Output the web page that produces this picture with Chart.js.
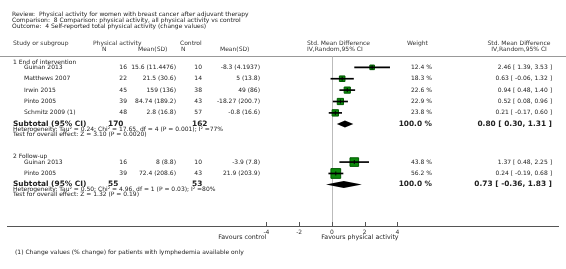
<!DOCTYPE html>
<html>
<head>
<meta charset="utf-8">
<script src="https://cdn.jsdelivr.net/npm/chart.js@4"></script>
<style>
  html, body { margin: 0; padding: 0; background: #fff; }
  canvas { display: block; }
</style>
</head>
<body>
<canvas id="forestplot" width="566" height="269"></canvas>
<script>
// header text
const titleLines = [
  'Review:  Physical activity for women with breast cancer after adjuvant therapy',
  'Comparison:  8 Comparison: physical activity, all physical activity vs control',
  'Outcome:  4 Self-reported total physical activity (change values)'
];
const footnote = '(1) Change values (% change) for patients with lymphedemia available only';

// subgroup 1: end of intervention
const g1Name = '1 End of intervention';
const g1Studies = ['Guinan 2013', 'Matthews 2007', 'Irwin 2015', 'Pinto 2005', 'Schmitz 2009 (1)'];
const g1PaN = [16, 22, 45, 39, 48];
const g1PaMean = [15.6, 21.5, 159, 84.74, 2.8];
const g1PaSD = [11.4476, 30.6, 136, 189.2, 16.8];
const g1CtN = [10, 14, 38, 43, 57];
const g1CtMean = [-8.3, 5, 49, -18.27, -0.8];
const g1CtSD = [4.1937, 13.8, 86, 200.7, 16.6];
const g1Weight = [12.4, 18.3, 22.6, 22.9, 23.8];
const g1Smd = [2.46, 0.63, 0.94, 0.52, 0.21];
const g1Lo = [1.39, -0.06, 0.48, 0.08, -0.17];
const g1Hi = [3.53, 1.32, 1.40, 0.96, 0.60];
const g1Total = { paN: 170, ctN: 162, smd: 0.80, lo: 0.30, hi: 1.31 };
const g1Het = 'Heterogeneity: Tau\u00b2 = 0.24; Chi\u00b2 = 17.65, df = 4 (P = 0.001); I\u00b2 =77%';
const g1Test = 'Test for overall effect: Z = 3.10 (P = 0.0020)';

// subgroup 2: follow-up
const g2Name = '2 Follow-up';
const g2Studies = ['Guinan 2013', 'Pinto 2005'];
const g2PaN = [16, 39];
const g2PaMean = [8, 72.4];
const g2PaSD = [8.8, 208.6];
const g2CtN = [10, 43];
const g2CtMean = [-3.9, 21.9];
const g2CtSD = [7.8, 203.9];
const g2Weight = [43.8, 56.2];
const g2Smd = [1.37, 0.24];
const g2Lo = [0.48, -0.19];
const g2Hi = [2.25, 0.68];
const g2Total = { paN: 55, ctN: 53, smd: 0.73, lo: -0.36, hi: 1.83 };
const g2Het = 'Heterogeneity: Tau\u00b2 = 0.50; Chi\u00b2 = 4.96, df = 1 (P = 0.03); I\u00b2 =80%';
const g2Test = 'Test for overall effect: Z = 1.32 (P = 0.19)';

const xTicks = [-4, -2, 0, 2, 4];
const leftLabel = 'Favours control';
const rightLabel = 'Favours physical activity';

// row layout (y scale units = one study row)
function makeGroup(name, studies, paN, paMean, paSD, ctN, ctMean, ctSD, weight, smd, lo, hi, total, het, test, start) {
  const rows = studies.map((s, i) => ({
    name: s, y: start + i,
    paN: paN[i], pa: paMean[i] + ' (' + paSD[i] + ')',
    ctN: ctN[i], ct: ctMean[i] + ' (' + ctSD[i] + ')',
    weight: weight[i], smd: smd[i], lo: lo[i], hi: hi[i]
  }));
  const sub = start + studies.length - 0.03;
  return { name, rows, total, het, test, headY: start - 0.47, subY: sub, hetY: sub + 0.46, testY: sub + 0.9 };
}
const group1 = makeGroup(g1Name, g1Studies, g1PaN, g1PaMean, g1PaSD, g1CtN, g1CtMean, g1CtSD,
  g1Weight, g1Smd, g1Lo, g1Hi, g1Total, g1Het, g1Test, 5.22);
const group2 = makeGroup(g2Name, g2Studies, g2PaN, g2PaMean, g2PaSD, g2CtN, g2CtMean, g2CtSD,
  g2Weight, g2Smd, g2Lo, g2Hi, g2Total, g2Het, g2Test, group1.subY + 3.35);
const groups = [group1, group2];
const allRows = groups.flatMap(g => g.rows);

const fmt = v => v.toFixed(2);
const ciText = (m, l, h) => fmt(m) + ' [ ' + fmt(l) + ', ' + fmt(h) + ' ]';

const FONT = '"DejaVu Sans", Verdana, sans-serif';
const TEXT = '#222';

// text columns, lines, diamonds
const forestText = {
  id: 'forestText',
  beforeDatasetsDraw(chart) {
    const { ctx, chartArea, scales: { x, y } } = chart;
    ctx.save();
    // rule under the column headers
    ctx.strokeStyle = '#999';
    ctx.lineWidth = 1;
    const ruleY = Math.round(y.getPixelForValue(4.2)) + 0.5;
    ctx.beginPath();
    ctx.moveTo(0, ruleY);
    ctx.lineTo(chart.width, ruleY);
    ctx.stroke();
    // line of no effect
    const zx = Math.round(x.getPixelForValue(0)) + 0.5;
    ctx.strokeStyle = '#bbb';
    ctx.beginPath();
    ctx.moveTo(zx, ruleY);
    ctx.lineTo(zx, chartArea.bottom);
    ctx.stroke();
    ctx.restore();
  },
  afterDraw(chart) {
    const { ctx, chartArea, scales: { x, y } } = chart;
    const py = v => y.getPixelForValue(v);
    ctx.save();
    ctx.textBaseline = 'middle';
    ctx.fillStyle = TEXT;

    const txt = (s, px, yy, align, font) => {
      ctx.font = font || ('6px ' + FONT);
      ctx.textAlign = align || 'left';
      ctx.fillText(s, px, yy);
    };
    const bold = 'bold 7.4px ' + FONT;

    titleLines.forEach((t, i) => txt(t, 12, py(0.6 + i * 0.5)));

    const h1 = py(3.14), h2 = py(3.65);
    ctx.fillStyle = '#333';
    txt('Study or subgroup', 13, h1);
    txt('Physical activity', 93, h1);
    txt('N', 102, h2);
    txt('Mean(SD)', 138, h2);
    txt('Control', 180, h1);
    txt('N', 181, h2);
    txt('Mean(SD)', 220, h2);
    txt('Std. Mean Difference', 307, h1);
    txt('IV,Random,95% CI', 307, h2);
    txt('Weight', 407, h1);
    txt('Std. Mean Difference', 519, h1, 'center');
    txt('IV,Random,95% CI', 519, h2, 'center');
    ctx.fillStyle = TEXT;

    groups.forEach(g => {
      txt(g.name, 13, py(g.headY));
      g.rows.forEach(r => {
        const yy = py(r.y);
        txt(r.name, 24, yy);
        txt(String(r.paN), 127, yy, 'right');
        txt(r.pa, 176, yy, 'right');
        txt(String(r.ctN), 202, yy, 'right');
        txt(r.ct, 260, yy, 'right');
        txt(r.weight.toFixed(1) + ' %', 432, yy, 'right');
        txt(ciText(r.smd, r.lo, r.hi), 552, yy, 'right');
      });
      const sy = py(g.subY);
      txt('Subtotal (95% CI)', 13, sy, 'left', bold);
      txt(String(g.total.paN), 108, sy, 'left', bold);
      txt(String(g.total.ctN), 192, sy, 'left', bold);
      txt('100.0 %', 432, sy, 'right', bold);
      txt(ciText(g.total.smd, g.total.lo, g.total.hi), 552, sy, 'right', bold);
      txt(g.het, 13, py(g.hetY));
      txt(g.test, 13, py(g.testY));

      // pooled estimate diamond
      const l = x.getPixelForValue(g.total.lo);
      const m = x.getPixelForValue(g.total.smd);
      const h = x.getPixelForValue(g.total.hi);
      ctx.fillStyle = '#000';
      ctx.beginPath();
      ctx.moveTo(l, sy);
      ctx.lineTo(m, sy - 3.5);
      ctx.lineTo(h, sy);
      ctx.lineTo(m, sy + 3.5);
      ctx.closePath();
      ctx.fill();
      ctx.fillStyle = TEXT;
    });

    // axis tick marks (pointing up) and side captions
    ctx.strokeStyle = '#555';
    ctx.lineWidth = 1;
    xTicks.forEach(t => {
      const tx = Math.round(x.getPixelForValue(t)) + 0.5;
      ctx.beginPath();
      ctx.moveTo(tx, chartArea.bottom);
      ctx.lineTo(tx, chartArea.bottom - 4);
      ctx.stroke();
    });
    const capY = chartArea.bottom + 11;
    txt(leftLabel, x.getPixelForValue(-4), capY, 'right', '6.3px ' + FONT);
    txt(rightLabel, x.getPixelForValue(-0.65), capY, 'left', '6.3px ' + FONT);
    txt(footnote, 15, chartArea.bottom + 26);
    ctx.restore();
  }
};

new Chart(document.getElementById('forestplot'), {
  type: 'scatter',
  data: {
    datasets: [
      {
        // point estimate tick
        type: 'scatter',
        data: allRows.map(r => ({ x: r.smd, y: r.y })),
        pointStyle: 'line',
        rotation: 90,
        radius: 2,
        borderColor: '#000',
        borderWidth: 1,
        order: 1
      },
      {
        // confidence intervals
        type: 'bar',
        indexAxis: 'y',
        data: allRows.map(r => ({ y: r.y, x: [r.lo, r.hi] })),
        backgroundColor: '#000',
        borderWidth: 0,
        barThickness: 1,
        order: 2
      },
      {
        // weighted study boxes
        type: 'scatter',
        data: allRows.map(r => ({ x: r.smd, y: r.y })),
        pointStyle: 'rect',
        radius: ctx => {
          const r = allRows[ctx.dataIndex];
          return r ? 1.3 * Math.sqrt(r.weight) / Math.SQRT2 : 0;
        },
        backgroundColor: '#0b8a0b',
        borderColor: '#005a00',
        borderWidth: 1,
        order: 3
      }
    ]
  },
  options: {
    responsive: false,
    animation: false,
    events: [],
    layout: { padding: 0 },
    plugins: { legend: { display: false }, tooltip: { enabled: false } },
    scales: {
      x: {
        type: 'linear',
        position: 'bottom',
        min: -19.79,
        max: 13.82,
        offset: false,
        afterBuildTicks: scale => { scale.ticks = xTicks.map(v => ({ value: v })); },
        afterFit: scale => { scale.height = 43; },
        grid: { display: false, drawTicks: false, tickLength: 0 },
        border: { display: true, color: '#555', width: 1 },
        ticks: { color: '#333', font: { family: FONT, size: 6 }, padding: 3, maxRotation: 0, autoSkip: false }
      },
      y: {
        type: 'linear',
        display: false,
        offset: false,
        grid: { offset: false },
        reverse: true,
        min: 0,
        max: 226 / 11.8
      }
    }
  },
  plugins: [forestText]
});
</script>
</body>
</html>
